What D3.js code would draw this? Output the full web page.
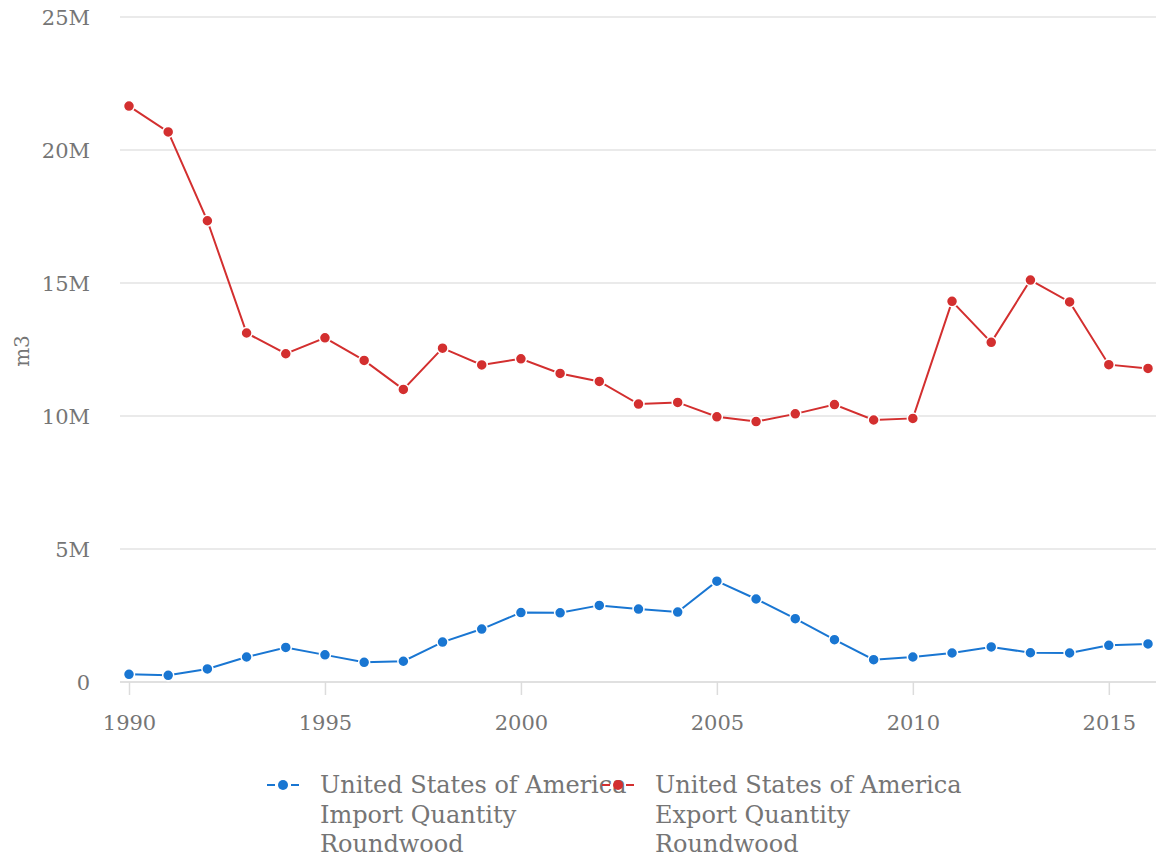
<!DOCTYPE html>
<html>
<head>
<meta charset="utf-8">
<script src="https://cdn.jsdelivr.net/npm/d3@7"></script>
<style>
  body { margin: 0; background: #fff; }
  text { font-family: "DejaVu Serif", serif; fill: #757575; }
</style>
</head>
<body>
<div id="chart"></div>
<script>
var svgWidth = 1156;
var svgHeight = 857;

var years = d3.range(1990, 2017);

var importQty = [0.29, 0.25, 0.49, 0.94, 1.30, 1.02, 0.74, 0.78, 1.50, 1.99,
  2.61, 2.60, 2.88, 2.74, 2.63, 3.79, 3.12, 2.38, 1.59, 0.84,
  0.94, 1.09, 1.32, 1.10, 1.09, 1.38, 1.43];

var exportQty = [21.65, 20.68, 17.34, 13.12, 12.34, 12.94, 12.09, 11.00, 12.55, 11.92,
  12.15, 11.60, 11.30, 10.45, 10.51, 9.97, 9.79, 10.08, 10.43, 9.85,
  9.91, 14.31, 12.77, 15.11, 14.29, 11.93, 11.79];

var yTicks = [0, 5, 10, 15, 20, 25];
var xTicks = [1990, 1995, 2000, 2005, 2010, 2015];

var seriesNames = [
  ["United States of America", "Import Quantity", "Roundwood"],
  ["United States of America", "Export Quantity", "Roundwood"]
];
var colors = ["#1976d2", "#d32f2f"];

var svg = d3.select("#chart")
  .append("svg")
  .attr("width", svgWidth)
  .attr("height", svgHeight);

var gridLeft = 120, gridRight = 1156;

// scales
var x = d3.scaleLinear()
  .domain([1990, 2016])
  .range([129, 1148]);

var y = d3.scaleLinear()
  .domain([0, 25])
  .range([682, 17]);

// gridlines
svg.append("g")
  .selectAll("line")
  .data(yTicks)
  .enter()
  .append("line")
  .attr("x1", gridLeft)
  .attr("x2", gridRight)
  .attr("y1", d => y(d))
  .attr("y2", d => y(d))
  .attr("stroke", d => d === 0 ? "#d6d6d6" : "#e3e3e3")
  .attr("stroke-width", 1.5);

// y axis labels
var leftAxis = d3.axisLeft(y)
  .tickValues(yTicks)
  .tickSize(0)
  .tickPadding(0)
  .tickFormat(d => d === 0 ? "0" : d + "M");

var yAxis = svg.append("g")
  .attr("transform", "translate(90, 0)")
  .call(leftAxis);
yAxis.select(".domain").remove();
yAxis.selectAll("text")
  .style("font-family", "'DejaVu Serif', serif")
  .style("font-size", "21px")
  .attr("fill", "#757575")
  .attr("dy", "0.35em");

// x axis
var bottomAxis = d3.axisBottom(x)
  .tickValues(xTicks)
  .tickSize(13)
  .tickPadding(20)
  .tickFormat(d3.format("d"));

var xAxis = svg.append("g")
  .attr("transform", "translate(0, 682)")
  .call(bottomAxis);
xAxis.select(".domain").remove();
xAxis.selectAll("line")
  .attr("stroke", "#dcdcdc")
  .attr("stroke-width", 1.5);
xAxis.selectAll("text")
  .style("font-family", "'DejaVu Serif', serif")
  .style("font-size", "21px")
  .attr("fill", "#757575");

// y title
svg.append("text")
  .attr("transform", "translate(29, 351) rotate(-90)")
  .attr("text-anchor", "middle")
  .style("font-size", "20px")
  .text("m3");

// lines
var allSeries = [importQty, exportQty];
var line = d3.line()
  .x((d, i) => x(years[i]))
  .y(d => y(d));

allSeries.forEach(function(values, k) {
  svg.append("path")
    .datum(values)
    .attr("d", line)
    .attr("fill", "none")
    .attr("stroke", colors[k])
    .attr("stroke-width", 2);

  svg.append("g")
    .selectAll("circle")
    .data(values)
    .enter()
    .append("circle")
    .attr("cx", (d, i) => x(years[i]))
    .attr("cy", d => y(d))
    .attr("r", 5.5)
    .attr("fill", colors[k])
    .attr("stroke", "#fff")
    .attr("stroke-width", 1.5);
});

// legend
var legend = svg.append("g");
seriesNames.forEach(function(lines, k) {
  var lx = 267 + k * 335;
  var ly = 785;
  var item = legend.append("g");
  var t = item.append("text")
    .attr("x", lx + 53)
    .attr("y", ly + 8)
    .style("font-size", "24px");
  lines.forEach(function(s, j) {
    t.append("tspan")
      .attr("x", lx + 53)
      .attr("dy", j === 0 ? 0 : 29.5)
      .text(s);
  });
  item.append("line")
    .attr("x1", lx).attr("x2", lx + 8)
    .attr("y1", ly).attr("y2", ly)
    .attr("stroke", colors[k]).attr("stroke-width", 2);
  item.append("line")
    .attr("x1", lx + 24).attr("x2", lx + 32)
    .attr("y1", ly).attr("y2", ly)
    .attr("stroke", colors[k]).attr("stroke-width", 2);
  item.append("circle")
    .attr("cx", lx + 16).attr("cy", ly)
    .attr("r", 5)
    .attr("fill", colors[k]);
});
</script>
</body>
</html>
